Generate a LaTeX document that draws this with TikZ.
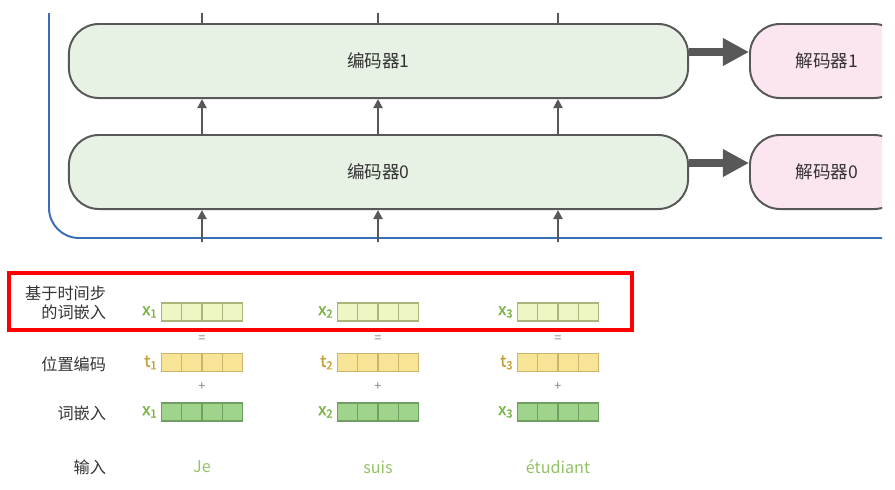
\documentclass[tikz,border=0pt]{standalone}
\usepackage{fontspec}
\setmainfont{Noto Sans CJK SC}
\newfontfamily\veclabfont[FakeBold=1.5]{Noto Sans CJK SC}
\usetikzlibrary{arrows.meta}

\definecolor{EncFill}{HTML}{E7F2E4}
\definecolor{DecFill}{HTML}{FBE5F0}
\definecolor{BoxLine}{HTML}{585858}
\definecolor{FrameBlue}{HTML}{3B6DB8}
\definecolor{EmbFill}{HTML}{EEF6C4}
\definecolor{EmbLine}{HTML}{A8B67C}
\definecolor{PosFill}{HTML}{F8E497}
\definecolor{PosLine}{HTML}{C9B56C}
\definecolor{WordFill}{HTML}{A0D38C}
\definecolor{WordLine}{HTML}{6F9F62}
\definecolor{XGreen}{HTML}{7BB343}
\definecolor{TGold}{HTML}{C6A03A}
\definecolor{InGreen}{HTML}{93C266}

\tikzset{
  encbox/.style={draw=BoxLine, line width=1.4pt, fill=EncFill, rounded corners=0.75cm,
    minimum width=15.475cm, minimum height=1.85cm, inner sep=0pt,
    font=\fontsize{12.5}{14}\selectfont, text=black!80},
  decbox/.style={encbox, fill=DecFill, minimum width=3.85cm},
  rowlab/.style={anchor=east, align=right, font=\fontsize{11.5}{13.5}\selectfont, text=black!80},
  cell/.style={draw, line width=0.8pt, minimum width=0.506cm, minimum height=0.45cm, inner sep=0pt},
  cellemb/.style={cell, draw=EmbLine, fill=EmbFill},
  cellpos/.style={cell, draw=PosLine, fill=PosFill},
  cellword/.style={cell, draw=WordLine, fill=WordFill},
  veclab/.style={anchor=east, inner sep=1pt, font=\veclabfont\fontsize{11.5}{12}\selectfont},
  opsign/.style={text=black!50, font=\fontsize{9}{10}\selectfont},
  upflow/.style={draw=BoxLine, line width=1.4pt, -{Triangle[length=6.5pt,width=6.5pt]}},
  handoff/.style={draw=BoxLine, line width=5.7pt, -{Triangle[length=0.65cm,width=0.65cm]}}
}

\begin{document}
\begin{tikzpicture}[x=0.025cm, y=-0.025cm]
 \useasboundingbox (0,0) rectangle (895,489);

 %%%%%%%%%% Points pour travailler %%%%%%%%%%
 \coordinate (c1) at (202,0) ;
 \coordinate (c2) at (378,0) ;
 \coordinate (c3) at (558,0) ;
 \coordinate (top) at (0,13) ;
 \coordinate (base) at (0,242) ;

 %%%%%%%%%% Encoders / decoders %%%%%%%%%%
 \begin{scope}
  \clip (0,0) rectangle (882,489);
  \node[encbox] (enc1) at (378.5,61) {编码器1};
  \node[encbox] (enc0) at (378.5,172) {编码器0};
  \node[decbox] (dec1) at (827,61) {解码器1};
  \node[decbox] (dec0) at (827,172) {解码器0};
 \end{scope}

 % blue frame
 \draw [line width=1.4pt, color=FrameBlue, rounded corners=0.75cm] (49,13) -- (49,238) -- (882,238) ;

 % thick arrows
 \draw [handoff] ([yshift=0.225cm]enc1.east) -- ([yshift=0.225cm]dec1.west) ;
 \draw [handoff] ([yshift=0.225cm]enc0.east) -- ([yshift=0.225cm]dec0.west) ;

 % vertical arrows
 \foreach \c in {c1,c2,c3} {
   \draw [draw=BoxLine, line width=1.4pt] (\c |- top) -- (\c |- enc1.north) ;
   \draw [upflow] (\c |- enc0.north) -- (\c |- enc1.south) ;
   \draw [upflow] (\c |- base) -- (\c |- enc0.south) ;
 }

 %%%%%%%%%% Row labels %%%%%%%%%%
 \node[rowlab] (labemb) at (111,302.5) {基于时间步\\的词嵌入};
 \node[rowlab] (labpos) at (111,364) {位置编码};
 \node[rowlab] (labwrd) at (111,413) {词嵌入};
 \node[rowlab] (labin) at (111,467) {输入};

 %%%%%%%%%% Vectors %%%%%%%%%%
 \foreach \n/\cx/\w in {1/202/Je, 2/378/suis, 3/558/étudiant} {
   \foreach \k in {0,...,3} {
     \node[cellemb] (emb\n\k) at ({\cx+(\k-1.5)*20.25},312) {};
     \node[cellpos] (pos\n\k) at ({\cx+(\k-1.5)*20.25},362.5) {};
     \node[cellword] (wrd\n\k) at ({\cx+(\k-1.5)*20.25},412) {};
   }
   \node[veclab, text=XGreen] (xe\n) at ({\cx-43},312) {x\textsubscript{\n}};
   \node[veclab, text=TGold] (te\n) at ({\cx-43},362.5) {t\textsubscript{\n}};
   \node[veclab, text=XGreen] (xw\n) at ({\cx-43},412) {x\textsubscript{\n}};
   \node[opsign] (eq\n) at (\cx,339) {=};
   \node[opsign] (pl\n) at (\cx,387) {+};
   \node[text=InGreen, font=\fontsize{11.5}{13}\selectfont] (in\n) at (\cx,467) {\w};
 }

 %%%%%%%%%% Highlight %%%%%%%%%%
 \draw [line width=2.4pt, color=red] (9,273) rectangle (632,330) ;

\end{tikzpicture}
\end{document}
